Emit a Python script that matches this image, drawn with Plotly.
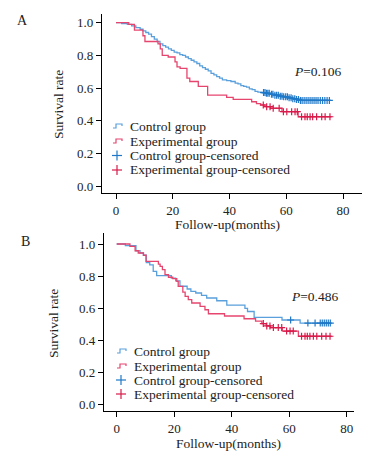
import plotly.graph_objects as go

# ---------------- data ----------------
# Panel A
ctrlA_t = [0, 2, 4, 5.5, 7, 8.5, 9.5, 10.5, 11.5, 12.5, 13.5, 14.5, 15.5, 16.5, 17.5, 18.5,
           19.5, 20.5, 21.5, 22.5, 23.5, 24.5, 25.5, 26.5, 27.5, 28.5, 29.5, 30.5, 31.5,
           32.5, 33.5, 34.5, 35.5, 36.5, 37.5, 39, 40.5, 42, 43, 44, 45, 46, 47, 48, 49,
           50, 51.5, 53, 54.5, 56, 57.5, 59, 60.5, 62, 63.5, 65]
ctrlA_s = [1.0, 0.995, 0.99, 0.98, 0.97, 0.96, 0.95, 0.94, 0.93, 0.915, 0.90, 0.885, 0.87,
           0.86, 0.85, 0.84, 0.83, 0.82, 0.815, 0.805, 0.80, 0.79, 0.78, 0.77, 0.76, 0.75,
           0.735, 0.725, 0.715, 0.705, 0.69, 0.68, 0.67, 0.66, 0.65, 0.645, 0.64, 0.63,
           0.625, 0.615, 0.61, 0.605, 0.595, 0.59, 0.58, 0.575, 0.572, 0.568, 0.562, 0.556,
           0.55, 0.546, 0.54, 0.535, 0.53, 0.524]
ctrlA_end = 75.7
ctrlA_cens = [52, 52.5, 53, 53.5, 54, 54.8, 55.3, 56, 56.6, 57.2, 57.9, 58.5, 59.1, 59.8,
              60.4, 61, 61.7, 62.3, 63, 63.6, 64.3, 65, 65.6, 66.3, 67, 67.7, 68.4, 69.1,
              69.8, 70.5, 71.2, 72, 72.8, 73.6, 74.4, 75.2]

expA_t = [0, 4.5, 6.5, 9.5, 10.2, 14.8, 15.6, 16.3, 18.4, 20.8, 21.5, 22.6, 25.0, 26.0,
          29.0, 32.3, 39.0, 41.3, 47.8, 49.5, 51.0, 52.5, 54.5, 58.5, 64.2]
expA_s = [1.0, 0.99, 0.955, 0.92, 0.885, 0.87, 0.84, 0.80, 0.79, 0.76, 0.73, 0.72, 0.66,
          0.64, 0.61, 0.557, 0.543, 0.531, 0.516, 0.505, 0.496, 0.486, 0.476, 0.455, 0.424]
expA_end = 76.0
expA_cens = [51.9, 53.1, 54.3, 55.4, 57.5, 59.0, 60.2, 61.9, 63.1, 63.9, 65.4, 66.6, 67.4,
             68.4, 69.3, 70.7, 72.5, 73.7, 75.4]

# Panel B
ctrlB_t = [0, 3.0, 6.7, 8.1, 9.3, 10.3, 11.5, 12.7, 13.9, 19.0, 20.5, 22.0, 24.5, 25.8,
           27.5, 29.5, 31.3, 34.8, 38.3, 44.6, 45.5, 47.8, 57.5, 63.8]
ctrlB_s = [1.0, 0.99, 0.958, 0.944, 0.93, 0.885, 0.87, 0.83, 0.803, 0.788, 0.77, 0.737,
           0.72, 0.705, 0.695, 0.68, 0.664, 0.647, 0.62, 0.60, 0.58, 0.543, 0.527, 0.508]
ctrlB_end = 74.6
ctrlB_cens = [60.5, 66.5, 69.0, 70.8, 71.5, 72.2, 72.9, 73.6, 74.3]

expB_t = [0, 4.6, 6.4, 7.5, 9.3, 10.2, 14.5, 15.1, 15.9, 16.8, 18.0, 19.5, 20.9, 21.4,
          23.0, 23.8, 24.9, 26.1, 29.0, 30.7, 31.9, 37.5, 44.3, 48.3, 50.5, 52.0, 53.5,
          57.6, 63.2]
expB_s = [1.0, 0.985, 0.958, 0.944, 0.93, 0.892, 0.875, 0.861, 0.84, 0.809, 0.793, 0.784,
          0.768, 0.736, 0.70, 0.674, 0.654, 0.633, 0.612, 0.591, 0.566, 0.552, 0.535, 0.52,
          0.505, 0.49, 0.48, 0.458, 0.426]
expB_end = 74.8
expB_cens = [51.0, 52.2, 53.3, 54.5, 56.2, 57.4, 59.1, 60.3, 61.4, 64.3, 65.5, 66.3, 67.2,
             68.4, 69.6, 71.3, 72.8, 74.2]

p_values = ["0.106", "0.486"]
panel_labels = ["A", "B"]
legend_names = ["Control group", "Experimental group",
                "Control group-censored", "Experimental group-censored"]
x_ticks = [0, 20, 40, 60, 80]
y_ticks = [0.0, 0.2, 0.4, 0.6, 0.8, 1.0]

# ---------------- styling ----------------
OFF = 8                       # page body margin of the browser
W, H = 379 - OFF, 456 - OFF   # figure fits the window exactly
FONT = "Times New Roman, Liberation Serif, Tinos, serif"
TXT = "#222222"
BLUE_LINE = "#5aa0dc"
BLUE_CENS = "#1f78c8"
RED_LINE = "#e6456e"
RED_CENS = "#d81b4a"


def px(x):
    return (x - OFF) / W


def py(y):
    return 1 - (y - OFF) / H


def surv_at(ts, ss, c):
    val = ss[0]
    for t, s in zip(ts, ss):
        if t <= c:
            val = s
    return val


fig = go.Figure()

panels = [
    dict(ct=ctrlA_t, cs=ctrlA_s, ce=ctrlA_end, cc=ctrlA_cens,
         et=expA_t, es=expA_s, ee=expA_end, ec=expA_cens, xa="x", ya="y"),
    dict(ct=ctrlB_t, cs=ctrlB_s, ce=ctrlB_end, cc=ctrlB_cens,
         et=expB_t, es=expB_s, ee=expB_end, ec=expB_cens, xa="x2", ya="y2"),
]

for p in panels:
    for t, s, e, c, lc, cc in [(p["ct"], p["cs"], p["ce"], p["cc"], BLUE_LINE, BLUE_CENS),
                               (p["et"], p["es"], p["ee"], p["ec"], RED_LINE, RED_CENS)]:
        fig.add_trace(go.Scatter(x=t + [e], y=s + [s[-1]], mode="lines",
                                 line=dict(color=lc, width=1.3, shape="hv"),
                                 xaxis=p["xa"], yaxis=p["ya"], showlegend=False,
                                 hoverinfo="skip"))
        fig.add_trace(go.Scatter(x=c, y=[surv_at(t, s, ci) for ci in c], mode="markers",
                                 marker=dict(symbol="cross-thin", size=5, color=cc,
                                             line=dict(color=cc, width=1.2)),
                                 xaxis=p["xa"], yaxis=p["ya"], showlegend=False,
                                 hoverinfo="skip"))

axis_common = dict(showline=True, linecolor="black", linewidth=1.3, ticks="outside",
                   ticklen=5, tickcolor="black", tickwidth=1.2, showgrid=False,
                   zeroline=False, tickfont=dict(family=FONT, size=13, color=TXT))

# pixel geometry of the two plot areas (window pixels)
A = dict(x0=102, x1=362, y0=14, y1=193, xz=116, x80=343, y0v=186, y1v=22.7)
B = dict(x0=104, x1=354, y0=233, y1=411, xz=116.7, x80=346.7, y0v=404.7, y1v=244)


def ranges(g):
    kx = (g["x80"] - g["xz"]) / 80.0
    ky = (g["y0v"] - g["y1v"])
    xr = [(g["x0"] - g["xz"]) / kx, (g["x1"] - g["xz"]) / kx]
    yr = [(g["y0v"] - g["y1"]) / ky, (g["y0v"] - g["y0"]) / ky]
    return xr, yr


xrA, yrA = ranges(A)
xrB, yrB = ranges(B)

fig.update_layout(
    width=W, height=H, margin=dict(l=0, r=0, t=0, b=0),
    paper_bgcolor="white", plot_bgcolor="white", showlegend=False,
    xaxis=dict(axis_common, domain=[px(A["x0"]), px(A["x1"])], range=xrA,
               tickvals=x_ticks, anchor="y"),
    yaxis=dict(axis_common, domain=[py(A["y1"]), py(A["y0"])], range=yrA,
               tickvals=y_ticks, tickformat=".1f", anchor="x"),
    xaxis2=dict(axis_common, domain=[px(B["x0"]), px(B["x1"])], range=xrB,
                tickvals=x_ticks, anchor="y2"),
    yaxis2=dict(axis_common, domain=[py(B["y1"]), py(B["y0"])], range=yrB,
                tickvals=y_ticks, tickformat=".1f", anchor="x2"),
)

ann = []
shapes = []


def add_text(x, y, text, size=13.5, xanchor="center", angle=0):
    ann.append(dict(x=px(x), y=py(y), xref="paper", yref="paper", text=text,
                    showarrow=False, xanchor=xanchor, yanchor="middle", textangle=angle,
                    font=dict(family=FONT, size=size, color=TXT)))


# panel letters, P values, axis titles
add_text(23, 20, panel_labels[0], size=14)
add_text(25, 241, panel_labels[1], size=14)
add_text(317.5, 71, "<i>P</i>=" + p_values[0])
add_text(314, 296, "<i>P</i>=" + p_values[1])
add_text(227, 224.5, "Follow-up(months)")
add_text(229, 443, "Follow-up(months)")
add_text(58, 104, "Survival rate", angle=-90)
add_text(53, 324, "Survival rate", angle=-90)

# custom legends (text + small symbols)
leg_rows = {"A": (127.5, 113, [126, 141, 155.5, 170]),
            "B": (132, 117, [351, 366, 380, 394])}
sym_colors = [BLUE_LINE, RED_LINE, BLUE_CENS, RED_CENS]
for key, (tx, sx, rows) in leg_rows.items():
    for i, (name, yy) in enumerate(zip(legend_names, rows)):
        add_text(tx, yy, name, xanchor="left")
        col = sym_colors[i]
        if i < 2:
            path = (f"M {px(sx)} {py(yy + 2)} L {px(sx + 3)} {py(yy + 2)} "
                    f"L {px(sx + 3)} {py(yy - 2)} L {px(sx + 9)} {py(yy - 2)} "
                    f"L {px(sx + 9)} {py(yy)}")
            shapes.append(dict(type="path", path=path, xref="paper", yref="paper",
                               line=dict(color=col, width=1.2)))
        else:
            shapes.append(dict(type="line", xref="paper", yref="paper",
                               x0=px(sx - 1), x1=px(sx + 9), y0=py(yy), y1=py(yy),
                               line=dict(color=col, width=1.2)))
            shapes.append(dict(type="line", xref="paper", yref="paper",
                               x0=px(sx + 4), x1=px(sx + 4), y0=py(yy - 5), y1=py(yy + 5),
                               line=dict(color=col, width=1.2)))

fig.update_layout(annotations=ann, shapes=shapes)
fig.write_html("out.html")
